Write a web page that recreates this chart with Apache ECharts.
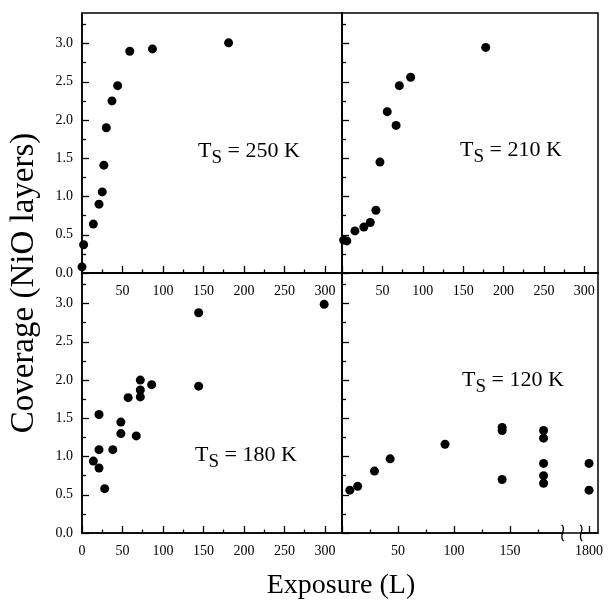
<!DOCTYPE html>
<html><head><meta charset="utf-8">
<script src="https://cdn.jsdelivr.net/npm/echarts@6/dist/echarts.min.js"></script>
<style>html,body{margin:0;padding:0;background:#fff}#c{width:608px;height:601px}</style>
</head><body><div id="c"></div>
<script>
// ---- data (exposure in L, coverage in NiO layers) ----
const ts250X = [0, 2, 14, 21, 25, 27, 30, 37, 44, 59, 87, 181];
const ts250Y = [0.08, 0.37, 0.64, 0.90, 1.06, 1.41, 1.90, 2.25, 2.45, 2.90, 2.93, 3.01];
const ts210X = [2, 6, 16, 27, 35, 42, 47, 56, 67, 71, 85, 178];
const ts210Y = [0.43, 0.42, 0.55, 0.60, 0.66, 0.82, 1.45, 2.11, 1.93, 2.45, 2.56, 2.95];
const ts180X = [14, 21, 21, 21, 28, 38, 48, 48, 57, 67, 72, 72, 72, 86, 144, 144, 299];
const ts180Y = [0.94, 1.55, 1.09, 0.85, 0.58, 1.09, 1.45, 1.30, 1.77, 1.27, 2.00, 1.87, 1.78, 1.94, 2.88, 1.92, 2.99];
const ts120X = [7, 14, 29, 43, 92, 143, 143, 143, 180, 180, 180, 180, 180, 1800, 1800];
const ts120Y = [0.56, 0.61, 0.81, 0.97, 1.16, 1.38, 1.34, 0.70, 1.34, 1.24, 0.91, 0.75, 0.65, 0.91, 0.56];
const panelTemps = ['250', '210', '180', '120'];

// ---- ticks and tick labels ----
const yMajorTicks = [0, 0.5, 1, 1.5, 2, 2.5, 3];
const yMinorTicks = [0.25, 0.75, 1.25, 1.75, 2.25, 2.75, 3.25];
const yLabels = [0, 0.5, 1, 1.5, 2, 2.5, 3];
const xMajorTicks = [0, 50, 100, 150, 200, 250, 300];
const xMinorTicks = [25, 75, 125, 175, 225, 275];
const xTopLabels = [50, 100, 150, 200, 250, 300];
const xBottomLabels = [0, 50, 100, 150, 200, 250, 300];
const brMajorTicks = [0, 50, 100, 150, 1800];
const brMinorTicks = [25, 75, 125, 175];
const brLabels = [50, 100, 150, 1800];
const brBreak = {start: 197, end: 1793};

const FONT = 'Liberation Serif';
const chart = echarts.init(document.getElementById('c'));

const grids = [
  {left: 82, top: 13, width: 260, height: 260},
  {left: 342, top: 13, width: 256, height: 260},
  {left: 82, top: 273, width: 260, height: 260},
  {left: 342, top: 273, width: 256, height: 260}
].map(g => Object.assign({show: true, borderColor: '#000', borderWidth: 1.5, backgroundColor: 'transparent'}, g));

const xMax = [321, 317, 321, 1808];
const xMajor = [xMajorTicks, xMajorTicks, xMajorTicks, brMajorTicks];
const xMinor = [xMinorTicks, xMinorTicks, xMinorTicks, brMinorTicks];
const xLab = [xTopLabels, xTopLabels, xBottomLabels, brLabels];

function xAxisDef(i, minor) {
  const a = {
    gridIndex: i, type: 'value', position: 'bottom', min: 0, max: xMax[i],
    axisLine: {show: !minor, lineStyle: {color: '#000', width: 1.5}},
    axisTick: {show: true, inside: true, length: minor ? 3.5 : 7,
      customValues: minor ? xMinor[i] : xMajor[i], lineStyle: {color: '#000', width: 1.3}},
    axisLabel: minor ? {show: false} : {show: true, customValues: xLab[i], margin: 11,
      fontFamily: FONT, fontSize: 14, color: '#000', formatter: v => String(v)},
    splitLine: {show: false}, minorTick: {show: false}
  };
  if (i === 3) {
    a.breaks = [{start: brBreak.start, end: brBreak.end, gap: 16.6}];
    a.breakArea = {show: true, itemStyle: {color: 'rgba(0,0,0,0)', borderColor: 'rgba(0,0,0,0)', borderWidth: 0}};
  }
  return a;
}
function yAxisDef(i, minor) {
  const showLab = !minor && (i === 0 || i === 2);
  return {
    gridIndex: i, type: 'value', position: 'left', min: 0, max: 3.4,
    axisLine: {show: !minor, lineStyle: {color: '#000', width: 1.5}},
    axisTick: {show: true, inside: true, length: minor ? 4 : 7,
      customValues: minor ? yMinorTicks : yMajorTicks, lineStyle: {color: '#000', width: 1.3}},
    axisLabel: showLab ? {show: true, customValues: yLabels, margin: 9,
      fontFamily: FONT, fontSize: 14, color: '#000', formatter: v => v.toFixed(1)} : {show: false},
    splitLine: {show: false}, minorTick: {show: false}
  };
}

const xAxes = [], yAxes = [];
for (let i = 0; i < 4; i++) { xAxes.push(xAxisDef(i, false)); yAxes.push(yAxisDef(i, false)); }
for (let i = 0; i < 4; i++) { xAxes.push(xAxisDef(i, true)); yAxes.push(yAxisDef(i, true)); }

const seriesX = [ts250X, ts210X, ts180X, ts120X];
const seriesY = [ts250Y, ts210Y, ts180Y, ts120Y];
const series = seriesX.map((xs, i) => ({
  type: 'scatter', name: 'Ts = ' + panelTemps[i] + ' K', xAxisIndex: i, yAxisIndex: i,
  data: xs.map((x, k) => [x, seriesY[i][k]]),
  symbol: 'circle', symbolSize: 9, itemStyle: {color: '#000', opacity: 1}, silent: true
}));

const annPos = [[198, 140], [460, 139], [195, 444], [462, 369]];
const annotations = annPos.map((p, i) => ({
  type: 'text', id: 'ann' + i, x: p[0], y: p[1], silent: true,
  style: {
    text: '{a|T}{b|S}{a| = ' + panelTemps[i] + ' K}',
    fill: '#000', textVerticalAlign: 'top',
    rich: {
      a: {fontFamily: FONT, fontSize: 22, lineHeight: 22, verticalAlign: 'top', fill: '#000'},
      b: {fontFamily: FONT, fontSize: 19, lineHeight: 19, padding: [9, 0, 0, 0], verticalAlign: 'top', fill: '#000'}
    }
  }
}));

const axisNames = [
  {type: 'text', id: 'ytitle', x: 24, y: 283, rotation: Math.PI / 2, silent: true,
   style: {text: 'Coverage (NiO layers)', fontFamily: FONT, fontSize: 33, fill: '#000',
           textAlign: 'center', textVerticalAlign: 'middle'}},
  {type: 'text', id: 'xtitle', x: 341, y: 586, silent: true,
   style: {text: 'Exposure (L)', fontFamily: FONT, fontSize: 28, fill: '#000',
           textAlign: 'center', textVerticalAlign: 'middle'}}
];

chart.setOption({
  animation: false,
  backgroundColor: '#fff',
  grid: grids,
  xAxis: xAxes,
  yAxis: yAxes,
  series: series,
  graphic: annotations.concat(axisNames)
});

// break marks on the broken axis of the 120 K panel
const p0 = chart.convertToPixel({xAxisIndex: 3, yAxisIndex: 3}, [brBreak.start, 0]);
const p1 = chart.convertToPixel({xAxisIndex: 3, yAxisIndex: 3}, [brBreak.end, 0]);
const squiggle = (id, x, y) => ({
  type: 'bezierCurve', id: id, silent: true, z: 200,
  shape: {x1: x - 1, y1: y - 8, cpx1: x + 5, cpy1: y - 4, cpx2: x - 5, cpy2: y + 3, x2: x + 1, y2: y + 8},
  style: {fill: null, stroke: '#000', lineWidth: 1.3}
});
chart.setOption({
  graphic: [squiggle('brk0', p0[0], p0[1]), squiggle('brk1', p1[0], p1[1])]
});
</script></body></html>
